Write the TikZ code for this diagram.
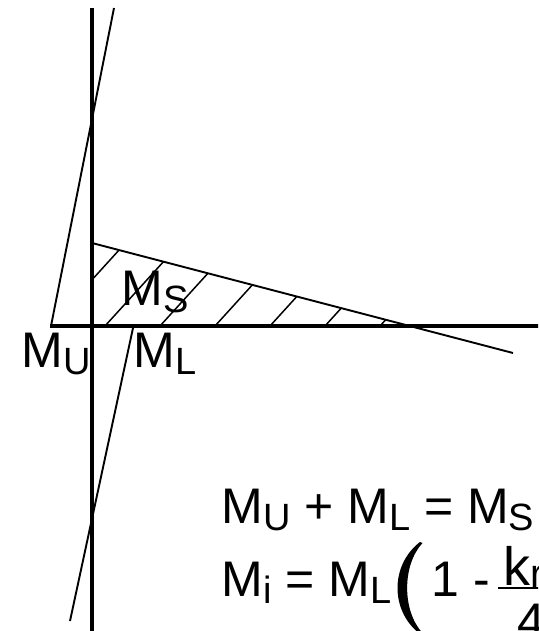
\documentclass[tikz,border=0pt]{standalone}
\usepackage{fontspec}
\setmainfont{Liberation Sans}
\newcommand{\lbl}[2]{#1\raisebox{-7pt}{\fontsize{38}{38}\selectfont #2}}
\begin{document}
\begin{tikzpicture}[x=1pt,y=-1pt,
  axis/.style={line width=3.8pt},
  thinline/.style={line width=1.9pt},
  hatchline/.style={line width=1.5pt},
  lab/.style={inner sep=0pt, anchor=base west, font=\fontsize{50}{50}\selectfont}]
\useasboundingbox (0,0) rectangle (538,631);
\clip (0,0) rectangle (538,631);
% named points
\coordinate (VT) at (92,8);
\coordinate (VB) at (92,640);
\coordinate (HL) at (50,326);
\coordinate (HR) at (545,326);
\coordinate (O) at (92,326);
\coordinate (UT) at (114,8);
\coordinate (UB) at (51,326);
\coordinate (LT) at (133,328);
\coordinate (LB) at (70,621);
\coordinate (A) at (92,243);
\coordinate (B) at (409,326);
\coordinate (E) at (513,353);
\coordinate (FL) at (498,588);
\coordinate (FR) at (545,588);
% hatching
\begin{scope}
  \clip (A) -- (B) -- (O) -- cycle;
  \foreach \x in {50,105,...,380} \draw[hatchline] (\x,326) -- ++(100,-110);
\end{scope}
% thin lines
\draw[thinline] (UT) -- (UB);
\draw[thinline] (LT) -- (LB);
\draw[thinline] (A) -- (E);
% axes
\draw[axis] (VT) -- (VB);
\draw[axis] (HL) -- (HR);
% labels
\node[lab] (mu) at (21.3,367) {\lbl{M}{U}};
\node[lab] (ml) at (133.3,367) {\lbl{M}{L}};
\node[lab] (ms) at (121.3,305) {\lbl{M}{S}};
% equations
\node[lab] (eq1) at (221.3,523) {\lbl{M}{U} + \lbl{M}{L} = \lbl{M}{S}};
\node[lab] (eq2) at (221.3,596) {\lbl{M}{i} = \lbl{M}{L}};
\fill (420,542) .. controls (390,565) and (390,611) .. (420,634) -- (422.5,633) .. controls (402,611) and (402,565) .. (422.5,543) -- cycle;
\node[lab] (one) at (431.6,596) {1 -};
\draw[line width=2.5pt] (FL) -- (FR);
\node[lab, font=\fontsize{54}{54}\selectfont] (num) at (503.5,585) {k\raisebox{-2pt}{\fontsize{40}{40}\selectfont r}};
\node[lab] (den) at (517,638) {4};
\end{tikzpicture}
\end{document}
